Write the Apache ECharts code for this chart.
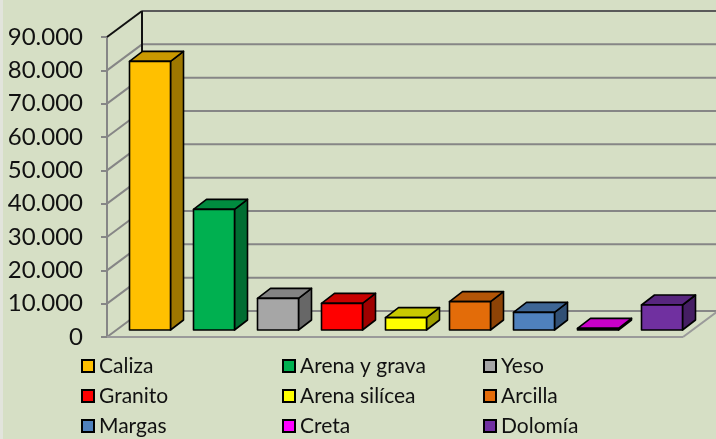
<!DOCTYPE html>
<html>
<head>
<meta charset="utf-8">
<script src="https://cdn.jsdelivr.net/npm/echarts@6/dist/echarts.min.js"></script>
<style>
  html, body { margin: 0; padding: 0; background: #d6dfc5; }
  #chart { width: 716px; height: 439px; }
</style>
</head>
<body>
<div id="chart"></div>
<script>
// Producción de rocas industriales por tipo (toneladas)
const categories = ['Caliza', 'Arena y grava', 'Yeso', 'Granito', 'Arena silícea', 'Arcilla', 'Margas', 'Creta', 'Dolomía'];
const values = [80600, 36200, 9500, 8000, 3700, 8500, 5300, 500, 7500];
const colors = ['#FFC000', '#00B050', '#A6A6A6', '#FF0000', '#FFFF00', '#E36C09', '#4F81BD', '#FF00FF', '#7030A0'];
const yTicks = [0, 10000, 20000, 30000, 40000, 50000, 60000, 70000, 80000, 90000];

// Legend columns (three columns of three entries)
const legendColumns = [
  ['Caliza', 'Granito', 'Margas'],
  ['Arena y grava', 'Arena silícea', 'Creta'],
  ['Yeso', 'Arcilla', 'Dolomía']
];

const FONT = 'Lato';
const WALL_DX = 35, WALL_DY = -26;     // depth of the box (back wall offset)
const BAR_SHIFT_X = 11, BAR_SHIFT_Y = -7; // bar front face inside the box
const BAR_DX = 13, BAR_DY = -10;       // bar depth
const BAR_HALF = 20.5;

function fmt(v) {
  return String(v).replace(/\B(?=(\d{3})+(?!\d))/g, '.');
}

// Scale a colour's RGB channels to shade box faces
function shade(color, f) {
  const c = echarts.color.parse(color);
  return 'rgb(' + Math.round(c[0] * f) + ',' + Math.round(c[1] * f) + ',' + Math.round(c[2] * f) + ')';
}

// Walls, floor and back gridlines of the 3D box
function renderWalls(params, api) {
  const cs = params.coordSys;
  const x0 = cs.x, x1 = cs.x + cs.width;
  const children = [];
  const grey = { stroke: '#868686', lineWidth: 2 };
  const yBottom = api.coord([0, yTicks[0]])[1];
  const yTop = api.coord([0, yTicks[yTicks.length - 1]])[1];
  yTicks.forEach(function (t, k) {
    const y = api.coord([0, t])[1];
    // back wall gridline
    children.push({
      type: 'line',
      shape: { x1: x0 + WALL_DX, y1: y + WALL_DY, x2: x1 + WALL_DX + 40, y2: y + WALL_DY },
      style: k === yTicks.length - 1 ? { stroke: '#5a5a5a', lineWidth: 2 } : grey
    });
    // side wall diagonal
    children.push({
      type: 'line',
      shape: { x1: x0, y1: y, x2: x0 + WALL_DX, y2: y + WALL_DY },
      style: k === yTicks.length - 1 ? { stroke: '#111', lineWidth: 2 } : grey
    });
  });
  // back-left corner edge
  children.push({
    type: 'line',
    shape: { x1: x0 + WALL_DX, y1: yTop + WALL_DY, x2: x0 + WALL_DX, y2: yBottom + WALL_DY },
    style: { stroke: '#111', lineWidth: 2 }
  });
  // floor front and right edges
  children.push({
    type: 'line',
    shape: { x1: x0, y1: yBottom, x2: x1, y2: yBottom },
    style: { stroke: '#9a9a9a', lineWidth: 2 }
  });
  children.push({
    type: 'line',
    shape: { x1: x1, y1: yBottom, x2: x1 + WALL_DX, y2: yBottom + WALL_DY },
    style: { stroke: '#9a9a9a', lineWidth: 2 }
  });
  return { type: 'group', children: children };
}

// A single 3D box bar
function renderBox(params, api) {
  const i = api.value(0);
  const v = api.value(1);
  const top = api.coord([i, v]);
  const base = api.coord([i, 0]);
  const cx = top[0] + BAR_SHIFT_X;
  const yt = top[1] + BAR_SHIFT_Y;
  const yb = base[1] + BAR_SHIFT_Y;
  const xl = cx - BAR_HALF, xr = cx + BAR_HALF;
  const c = api.visual('color');
  const topColor = shade(c, 0.79);
  const sideColor = shade(c, 0.62);
  const edge = { stroke: '#000', lineWidth: 1.6, lineJoin: 'round' };
  return {
    type: 'group',
    children: [
      {
        type: 'polygon',
        shape: { points: [[xr, yt], [xr + BAR_DX, yt + BAR_DY], [xr + BAR_DX, yb + BAR_DY], [xr, yb]] },
        style: Object.assign({ fill: sideColor }, edge)
      },
      {
        type: 'polygon',
        shape: { points: [[xl, yt], [xl + BAR_DX, yt + BAR_DY], [xr + BAR_DX, yt + BAR_DY], [xr, yt]] },
        style: Object.assign({ fill: topColor }, edge)
      },
      {
        type: 'rect',
        shape: { x: xl, y: yt, width: xr - xl, height: Math.max(yb - yt, 0.5) },
        style: Object.assign({ fill: c }, edge)
      }
    ]
  };
}

const series = [{
  type: 'custom',
  name: '__walls',
  renderItem: renderWalls,
  data: [[0, 0]],
  silent: true,
  z: 1
}];
categories.forEach(function (name, i) {
  series.push({
    type: 'custom',
    name: name,
    renderItem: renderBox,
    itemStyle: { color: colors[i], borderColor: '#000', borderWidth: 1.5 },
    data: [[i, values[i]]],
    z: 3
  });
});

const legendX = [81, 282, 483];
const legends = legendColumns.map(function (col, k) {
  return {
    orient: 'vertical',
    left: legendX[k],
    top: 355,
    data: col,
    icon: 'rect',
    itemWidth: 12,
    itemHeight: 12,
    itemGap: 8,
    padding: 0,
    selectedMode: false,
    textStyle: { fontFamily: FONT, fontSize: 21, color: '#111', lineHeight: 22 }
  };
});

const chart = echarts.init(document.getElementById('chart'), null, { renderer: 'canvas' });
chart.setOption({
  backgroundColor: '#d6dfc5',
  animation: false,
  graphic: [{
    type: 'rect', left: 0, top: 0, z: -1,
    shape: { width: 3, height: 439 },
    style: { fill: '#e2e4dc' }
  }],
  legend: legends,
  grid: { left: 107, top: 37, width: 576, height: 300, containLabel: false },
  xAxis: {
    type: 'category',
    data: categories,
    boundaryGap: true,
    axisLine: { show: false },
    axisTick: { show: false },
    axisLabel: { show: false }
  },
  yAxis: {
    type: 'value',
    min: 0,
    max: 90000,
    interval: 10000,
    axisLine: { show: true, lineStyle: { color: '#868686', width: 2 } },
    axisTick: { show: true, length: 6, lineStyle: { color: '#868686', width: 2 } },
    splitLine: { show: false },
    axisLabel: {
      margin: 24,
      fontFamily: FONT,
      fontSize: 24,
      color: '#111',
      formatter: function (v) { return fmt(v); }
    }
  },
  series: series
});
</script>
</body>
</html>
